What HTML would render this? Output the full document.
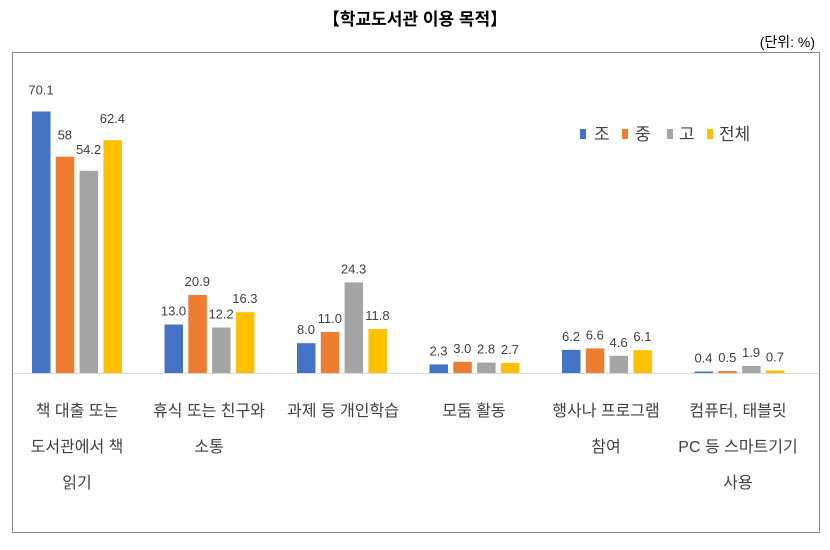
<!DOCTYPE html>
<html><head><meta charset="utf-8"><style>
body{margin:0;background:#fff;width:830px;height:545px;overflow:hidden}
svg text{font-family:"Liberation Sans","Noto Sans CJK KR",sans-serif}
</style></head><body>
<svg width="830" height="545" xmlns="http://www.w3.org/2000/svg">
<text x="415" y="25" text-anchor="middle" font-size="17" font-weight="bold" fill="#000">【학교도서관 이용 목적】</text>
<text x="815" y="47" text-anchor="end" font-size="14" fill="#000" font-family="Liberation Serif,Noto Serif CJK SC,serif">(단위: %)</text>
<rect x="12.5" y="52.5" width="807" height="480" fill="none" stroke="#888" stroke-width="1"/>
<line x1="14" y1="373.5" x2="818" y2="373.5" stroke="#d9d9d9"/>
<g id="bars"></g>
<g font-size="13" fill="#404040" text-anchor="middle" id="labels"></g>
<g font-size="17" fill="#404040">
<rect x="580" y="129" width="6" height="10" fill="#4472C4"/><text x="594" y="140">조</text>
<rect x="622" y="129" width="6" height="10" fill="#ED7D31"/><text x="635" y="140">중</text>
<rect x="667" y="129" width="6" height="10" fill="#A5A5A5"/><text x="679" y="140">고</text>
<rect x="707" y="129" width="6" height="10" fill="#FFC000"/><text x="719" y="140">전체</text>
</g>
<g font-size="16" fill="#404040" text-anchor="middle">
<text x="77" y="416">책 대출 또는</text><text x="77" y="452">도서관에서 책</text><text x="77" y="488">읽기</text>
<text x="209" y="416">휴식 또는 친구와</text><text x="209" y="452">소통</text>
<text x="343" y="416">과제 등 개인학습</text>
<text x="474" y="416">모둠 활동</text>
<text x="606" y="416">행사나 프로그램</text><text x="606" y="452">참여</text>
<text x="738" y="416">컴퓨터, 태블릿</text><text x="738" y="452">PC 등 스마트기기</text><text x="738" y="488">사용</text>
</g>
</svg>
<script>
var d=[[70.1,58,54.2,62.4],[13.0,20.9,12.2,16.3],[8.0,11.0,24.3,11.8],[2.3,3.0,2.8,2.7],[6.2,6.6,4.6,6.1],[0.4,0.5,1.9,0.7]];
var lab=[["70.1","58","54.2","62.4"],["13.0","20.9","12.2","16.3"],["8.0","11.0","24.3","11.8"],["2.3","3.0","2.8","2.7"],["6.2","6.6","4.6","6.1"],["0.4","0.5","1.9","0.7"]];
var c=["#4472C4","#ED7D31","#A5A5A5","#FFC000"];
var b=document.getElementById("bars"),l=document.getElementById("labels"),s="",t="";
for(var g=0;g<6;g++)for(var i=0;i<4;i++){
var x=32+g*132.5+i*23.8,h=d[g][i]*3.73,y=373-h;
s+='<rect x="'+x.toFixed(1)+'" y="'+y.toFixed(1)+'" width="18.5" height="'+h.toFixed(1)+'" fill="'+c[i]+'"/>';
var off=(g==0)?17:9;
t+='<text x="'+(x+9).toFixed(1)+'" y="'+(y-off).toFixed(1)+'">'+lab[g][i]+'</text>';}
b.innerHTML=s;l.innerHTML=t;
</script>
</body></html>
